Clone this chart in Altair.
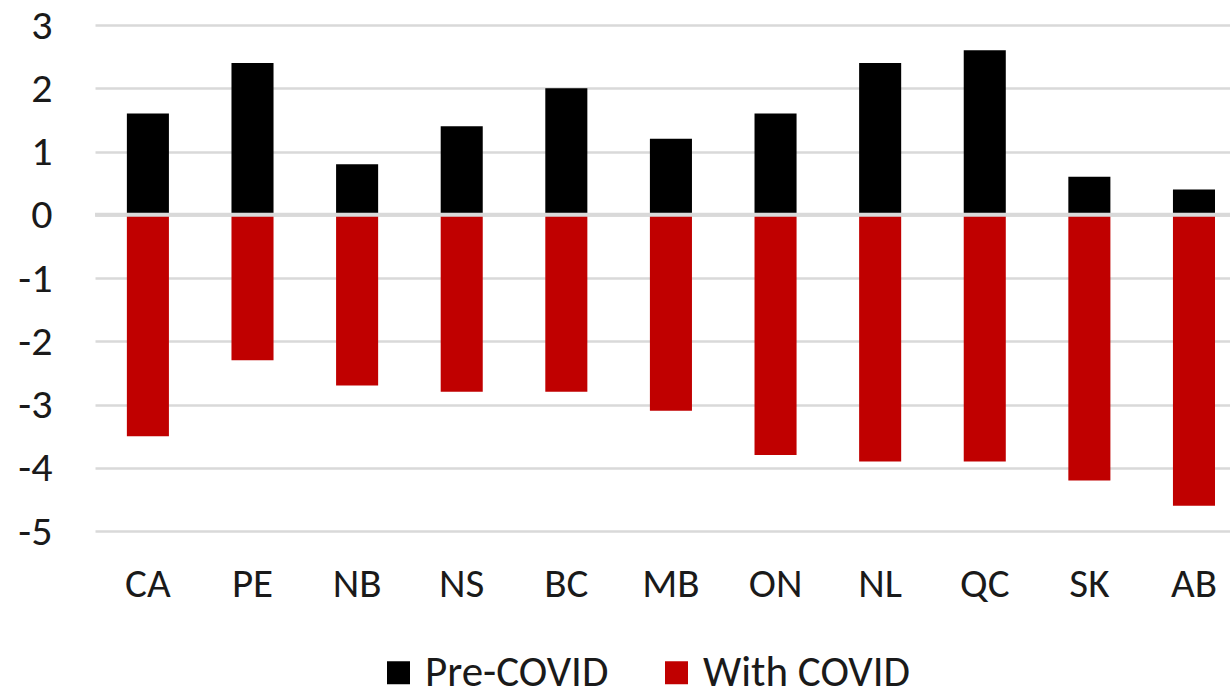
import altair as alt
import pandas as pd

# Provincial budget balances (% of GDP), before and with COVID
provinces = ["CA", "PE", "NB", "NS", "BC", "MB", "ON", "NL", "QC", "SK", "AB"]
pre_covid = [1.6, 2.4, 0.8, 1.4, 2.0, 1.2, 1.6, 2.4, 2.6, 0.6, 0.4]
with_covid = [-3.5, -2.3, -2.7, -2.8, -2.8, -3.1, -3.8, -3.9, -3.9, -4.2, -4.6]
series = ["Pre-COVID", "With COVID"]
colors = ["#000000", "#C00000"]
y_ticks = [3, 2, 1, 0, -1, -2, -3, -4, -5]

FONT = "Carlito, Lato"

rows = []
for p, a, b in zip(provinces, pre_covid, with_covid):
    rows.append({"province": p, "series": series[0], "value": a})
    rows.append({"province": p, "series": series[1], "value": b})
df = pd.DataFrame(rows)

x_enc = alt.X(
    "province:N",
    sort=provinces,
    title=None,
    scale=alt.Scale(paddingInner=0.598, paddingOuter=0.224, align=0.68),
    axis=alt.Axis(
        labelAngle=0, ticks=False, tickSize=0, domain=False, grid=False,
        labelFont=FONT, labelFontSize=41, labelColor="#1a1a1a", labelPadding=33,
    ),
)

bars = alt.Chart(df).mark_bar().encode(
    x=x_enc,
    y=alt.Y(
        "value:Q",
        stack=None,
        title=None,
        scale=alt.Scale(domain=[-5, 3], nice=False, zero=False),
        axis=alt.Axis(
            values=y_ticks, labelExpr="'' + datum.value",
            ticks=False, tickSize=0, domain=False,
            gridColor="#d9d9d9", gridWidth=2.7, gridOpacity=1,
            labelFont=FONT, labelFontSize=42, labelColor="#1a1a1a", labelPadding=43,
        ),
    ),
    color=alt.Color(
        "series:N",
        scale=alt.Scale(domain=series, range=colors),
        legend=alt.Legend(
            title=None, orient="none", direction="horizontal",
            legendX=282, legendY=626,
            symbolType="square", symbolSize=529, symbolStrokeWidth=0,
            labelFont=FONT, labelFontSize=43, labelColor="#1a1a1a",
            labelOffset=5, labelLimit=400, columnPadding=46, symbolOpacity=1,
        ),
    ),
)

zero_line = alt.Chart(pd.DataFrame({"v": [0]})).mark_rule(
    color="#d9d9d9", strokeWidth=4
).encode(y="v:Q")

chart = alt.layer(bars, zero_line).properties(
    width=1135,
    height=506,
    padding={"left": 95, "top": 25, "right": 0, "bottom": 166},
    autosize=alt.AutoSizeParams(type="none"),
).configure_view(stroke=None)

chart.save("out.html", embed_options={"renderer": "svg", "actions": False})
